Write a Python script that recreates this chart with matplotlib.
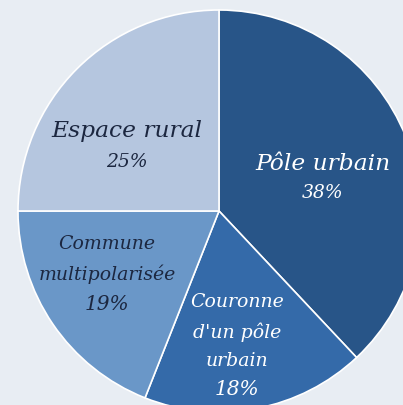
import matplotlib
matplotlib.use("Agg")
import matplotlib.pyplot as plt

categories = ["Pôle urbain", "Couronne\nd'un pôle\nurbain", "Commune\nmultipolarisée", "Espace rural"]
values = [38, 18, 19, 25]
colors = ["#285588", "#346aa9", "#6a97c8", "#b5c6df"]
text_colors = ["white", "white", "#1c2740", "#1c2740"]
name_sizes = [16.8, 13.6, 13.6, 16.8]
pct_sizes = [13.5, 14.5, 14.5, 13.5]

W, H = 403, 406
cx, cy, R = 219, 212, 201

fig = plt.figure(figsize=(W / 100, H / 100), dpi=100)
fig.patch.set_facecolor("#e8edf3")
ax = fig.add_axes([0, 0, 1, 1])
ax.set_facecolor("#e8edf3")
ax.axis("off")

wedges, _ = ax.pie(values, colors=colors, startangle=90, counterclock=False,
                   radius=1.0, wedgeprops=dict(edgecolor="white", linewidth=1.2))
ax.set_aspect("auto")
ax.set_xlim(-cx / R, (W - cx) / R)
ax.set_ylim(-(H - cy) / R, cy / R)

# pixel y of each line (names lines then percentage) and x center
line_y = [[164, 193], [302, 332, 361, 390], [244, 274, 305], [131, 162]]
line_x = [323, 237, 107, 127]
FAM = "DejaVu Serif"
for cat, v, ys, px, tc, ns, ps in zip(categories, values, line_y, line_x, text_colors, name_sizes, pct_sizes):
    lines = cat.split("\n") + [f"{v}%"]
    for i, (ln, py) in enumerate(zip(lines, ys)):
        size = ps if i == len(lines) - 1 else ns
        ax.text((px - cx) / R, (cy - py) / R, ln, ha="center", va="center", color=tc,
                fontsize=size, fontstyle="italic", family=FAM)

fig.savefig("out.png", dpi=100, facecolor=fig.get_facecolor())
